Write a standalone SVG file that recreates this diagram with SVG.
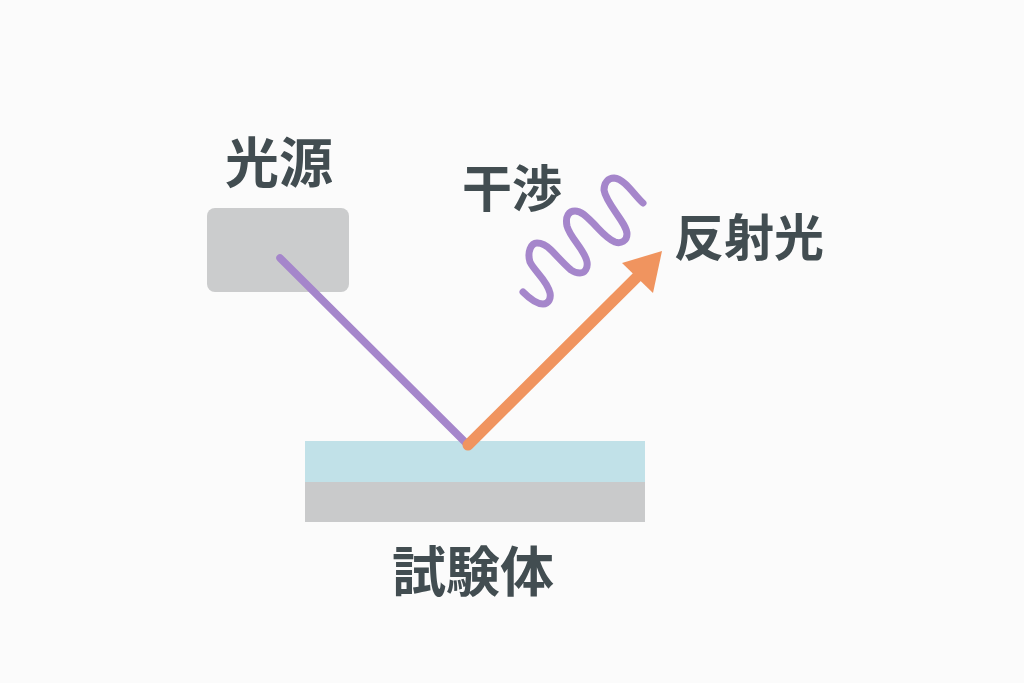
<svg xmlns="http://www.w3.org/2000/svg" width="1024" height="683" viewBox="0 0 1024 683">
<style>
.l{font-family:"Noto Sans CJK JP","Noto Sans CJK SC",sans-serif;font-weight:700;fill:#424d51;text-anchor:middle}
.big{font-size:54px}
.mid{font-size:50px}
.ray{fill:none;stroke-linecap:round;stroke-linejoin:round}
</style>
<rect width="1024" height="683" fill="#fbfbfb"/>
<g id="light-source"><rect x="207" y="208" width="142" height="84" rx="8" fill="#cbcccd"/><text class="l big" x="279" y="183">光源</text></g>
<g id="specimen"><rect x="305" y="441" width="340" height="41" fill="#c1e1e8"/><rect x="305" y="482" width="340" height="40" fill="#c9cacb"/><text class="l big" x="473" y="592">試験体</text></g>
<g id="interference"><text class="l mid" x="512" y="207">干渉</text></g>
<g id="reflected-light"><text class="l mid" x="749" y="256">反射光</text></g>
<g id="connectors">
<path class="ray" d="M280 258L468 445" stroke="#a586cb" stroke-width="7.5"/>
<path class="ray" d="M523 292C529 298 537 304 543 304C549 304 551 298 550 293C547 280 535 272 530 262C527 252 531 243 537 243C543 243 547 246 551 250C558 257 564 264 571 270C575 273 578 273 580 273C585 273 588 268 587 262C585 250 570 238 567 226C565 216 569 211 575 211C581 211 586 216 593 223C600 230 606 238 615 242C621 244 627 241 627 234C627 223 606 204 604 190C604 183 608 178 614 178C625 179 634 195 643 203" stroke="#a586cb" stroke-width="7"/>
<path class="ray" d="M468 445L640 274" stroke="#f0945f" stroke-width="11"/>
<path d="M662 251L622 263L653 293Z" fill="#f0945f"/>
</g>
</svg>
